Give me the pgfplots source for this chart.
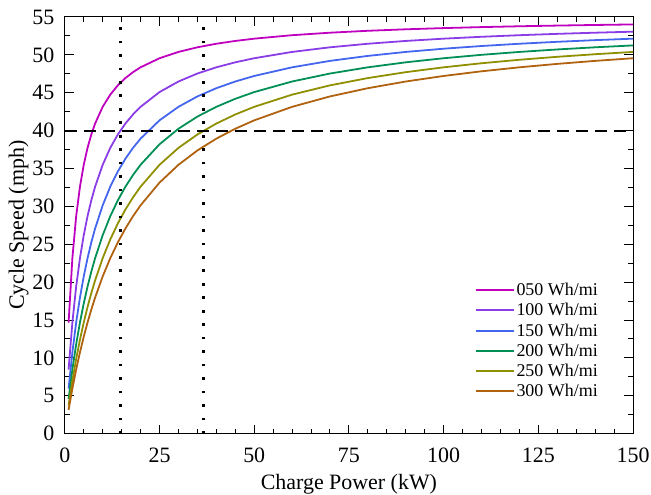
\documentclass[border=0pt]{standalone}
\usepackage{fontspec}
\setmainfont{Liberation Serif}
\usepackage{pgfplots}
\pgfplotsset{compat=1.18}

\definecolor{c050}{HTML}{BF00BF}
\definecolor{c100}{HTML}{8A3DE6}
\definecolor{c150}{HTML}{4466EE}
\definecolor{c200}{HTML}{008F55}
\definecolor{c250}{HTML}{8F8F00}
\definecolor{c300}{HTML}{B0620F}

\begin{document}
\begin{tikzpicture}
\begin{axis}[
  width=570pt, height=418pt,
  scale only axis,
  xmin=0, xmax=150, ymin=0, ymax=55,
  xtick={0,25,...,150}, ytick={0,5,...,55},
  minor x tick num=4, minor y tick num=1,
  tick align=inside,
  major tick length=9pt, minor tick length=5pt,
  tick style={black, line width=1pt},
  axis line style={line width=1pt},
  /pgf/number format/assume math mode=true,
  tick label style={font=\fontsize{22}{24}\selectfont},
  yticklabel style={xshift=-7pt},
  xticklabel style={yshift=-11pt},
  label style={font=\fontsize{22}{24}\selectfont},
  xlabel={Charge Power (kW)},
  ylabel={Cycle Speed (mph)},
  xlabel style={yshift=-5pt},
  ylabel style={yshift=-3pt},
  legend style={draw=none, fill=none, at={(0.947,0.075)}, anchor=south east,
    font=\fontsize{18}{19}\selectfont, row sep=2.3pt},
  legend cell align=left,
  legend image code/.code={\draw[#1, line width=2pt] (0pt,0pt) -- (38pt,0pt);},
  every axis plot/.append style={line width=1.8pt},
]
\addplot[c050] coordinates {
(1,14.667) (2,23.158) (3,28.696) (4,32.593) (5,35.484) (6,37.714) (7,39.487) (8,40.930)
(10,43.137) (12,44.746) (14,45.970) (16,46.933) (18,47.711) (20,48.352) (25,49.550)
(30,50.382) (35,50.993) (40,51.462) (45,51.832) (50,52.133) (60,52.590) (70,52.921)
(80,53.172) (90,53.369) (100,53.528) (110,53.659) (120,53.768) (130,53.861) (140,53.940) (150,54.010)};
\addlegendentry{050 Wh/mi}
\addplot[c100] coordinates {
(1,8.462) (2,14.667) (3,19.412) (4,23.158) (5,26.190) (6,28.696) (7,30.800) (8,32.593)
(10,35.484) (12,37.714) (14,39.487) (16,40.930) (18,42.128) (20,43.137) (25,45.082)
(30,46.479) (35,47.531) (40,48.352) (45,49.010) (50,49.550) (60,50.382) (70,50.993)
(80,51.462) (90,51.832) (100,52.133) (110,52.381) (120,52.590) (130,52.768) (140,52.921) (150,53.055)};
\addlegendentry{100 Wh/mi}
\addplot[c150] coordinates {
(1,5.946) (2,10.732) (3,14.667) (4,17.959) (5,20.755) (6,23.158) (7,25.246) (8,27.077)
(10,30.137) (12,32.593) (14,34.607) (16,36.289) (18,37.714) (20,38.938) (25,41.353)
(30,43.137) (35,44.509) (40,45.596) (45,46.479) (50,47.210) (60,48.352) (70,49.201)
(80,49.858) (90,50.382) (100,50.808) (110,51.163) (120,51.462) (130,51.718) (140,51.939) (150,52.133)};
\addlegendentry{150 Wh/mi}
\addplot[c200] coordinates {
(1,4.583) (2,8.462) (3,11.786) (4,14.667) (5,17.188) (6,19.412) (7,21.389) (8,23.158)
(10,26.190) (12,28.696) (14,30.800) (16,32.593) (18,34.138) (20,35.484) (25,38.194)
(30,40.244) (35,41.848) (40,43.137) (45,44.196) (50,45.082) (60,46.479) (70,47.531)
(80,48.352) (90,49.010) (100,49.550) (110,50.000) (120,50.382) (130,50.709) (140,50.993) (150,51.242)};
\addlegendentry{200 Wh/mi}
\addplot[c250] coordinates {
(1,3.729) (2,6.984) (3,9.851) (4,12.394) (5,14.667) (6,16.709) (7,18.554) (8,20.230)
(10,23.158) (12,25.631) (14,27.748) (16,29.580) (18,31.181) (20,32.593) (25,35.484)
(30,37.714) (35,39.487) (40,40.930) (45,42.128) (50,43.137) (60,44.746) (70,45.970)
(80,46.933) (90,47.711) (100,48.352) (110,48.889) (120,49.346) (130,49.739) (140,50.081) (150,50.382)};
\addlegendentry{250 Wh/mi}
\addplot[c300] coordinates {
(1,3.143) (2,5.946) (3,8.462) (4,10.732) (5,12.791) (6,14.667) (7,16.383) (8,17.959)
(10,20.755) (12,23.158) (14,25.246) (16,27.077) (18,28.696) (20,30.137) (25,33.133)
(30,35.484) (35,37.379) (40,38.938) (45,40.244) (50,41.353) (60,43.137) (70,44.509)
(80,45.596) (90,46.479) (100,47.210) (110,47.826) (120,48.352) (130,48.805) (140,49.201) (150,49.550)};
\addlegendentry{300 Wh/mi}
\addplot[black, line width=2pt, dash pattern=on 12pt off 7pt, forget plot] coordinates {(0,40) (150,40)};
\addplot[black, line width=2.7pt, dash pattern=on 2.7pt off 10.8pt, forget plot] coordinates {(14.67,0) (14.67,55)};
\addplot[black, line width=2.7pt, dash pattern=on 2.7pt off 10.8pt, forget plot] coordinates {(36.67,0) (36.67,55)};
\end{axis}
\pgfresetboundingbox
\path ([shift={(-65pt,-61pt)}]current axis.south west) rectangle ([shift={(18pt,17pt)}]current axis.north east);
\end{tikzpicture}
\end{document}
